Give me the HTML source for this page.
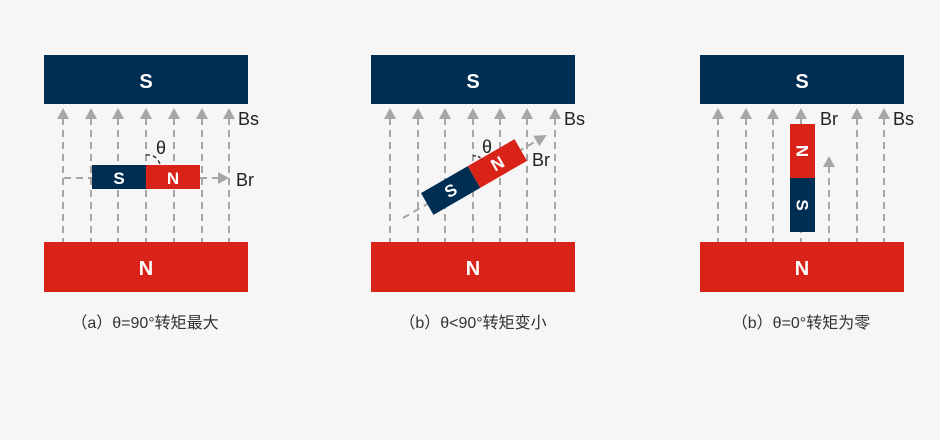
<!DOCTYPE html>
<html><head><meta charset="utf-8"><style>
html,body{margin:0;padding:0;background:#f6f6f6}
svg{display:block}
text{font-family:"Liberation Sans","Noto Sans CJK SC",sans-serif}
</style></head><body>
<svg width="940" height="440" viewBox="0 0 940 440" xmlns="http://www.w3.org/2000/svg">
<rect width="940" height="440" fill="#f6f6f6"/>
<defs>
<g id="fl"><line x1="0" y1="118" x2="0" y2="242" stroke="#a6a6a6" stroke-width="2" stroke-dasharray="7,5"/><polygon points="0,108 -6,119 6,119" fill="#a6a6a6"/></g>
</defs>
<!-- Panel 1 -->
<rect x="44" y="55" width="204" height="49" fill="#002d52"/>
<text x="146" y="88" font-size="20" font-weight="bold" fill="#fff" text-anchor="middle">S</text>
<rect x="44" y="242" width="204" height="50" fill="#d92318"/>
<text x="146" y="275" font-size="20" font-weight="bold" fill="#fff" text-anchor="middle">N</text>
<use href="#fl" x="63"/><use href="#fl" x="91"/><use href="#fl" x="118"/><use href="#fl" x="146"/><use href="#fl" x="174"/><use href="#fl" x="202"/><use href="#fl" x="229"/>
<text x="238" y="125" font-size="18" fill="#222">Bs</text>
<line x1="64" y1="178" x2="92" y2="178" stroke="#a6a6a6" stroke-width="2" stroke-dasharray="7,5"/>
<line x1="200" y1="178" x2="218" y2="178" stroke="#a6a6a6" stroke-width="2" stroke-dasharray="7,5"/>
<polygon points="229,178 218,172 218,184" fill="#a6a6a6"/>
<rect x="92" y="165" width="54" height="24" fill="#002d52"/>
<rect x="146" y="165" width="54" height="24" fill="#d92318"/>
<text x="119" y="184" font-size="17" font-weight="bold" fill="#fff" text-anchor="middle">S</text>
<text x="173" y="184" font-size="17" font-weight="bold" fill="#fff" text-anchor="middle">N</text>
<text x="236" y="186" font-size="18" fill="#222">Br</text>
<text x="161" y="154" font-size="18" fill="#222" text-anchor="middle">θ</text>
<path d="M146,155 Q156,154 160,164" fill="none" stroke="#222" stroke-width="1.3" stroke-dasharray="4,3"/>
<text x="145" y="328" font-size="16" fill="#333" text-anchor="middle">（a）θ=90°转矩最大</text>
<!-- Panel 2 -->
<rect x="371" y="55" width="204" height="49" fill="#002d52"/>
<text x="473" y="88" font-size="20" font-weight="bold" fill="#fff" text-anchor="middle">S</text>
<rect x="371" y="242" width="204" height="50" fill="#d92318"/>
<text x="473" y="275" font-size="20" font-weight="bold" fill="#fff" text-anchor="middle">N</text>
<use href="#fl" x="390"/><use href="#fl" x="418"/><use href="#fl" x="445"/><use href="#fl" x="473"/><use href="#fl" x="500"/><use href="#fl" x="527"/><use href="#fl" x="555"/>
<text x="564" y="125" font-size="18" fill="#222">Bs</text>
<g transform="translate(474,177) rotate(-30)">
<line x1="-82" y1="0" x2="74" y2="0" stroke="#a6a6a6" stroke-width="2" stroke-dasharray="7,5"/>
<polygon points="84,0 72,-6 72,6" fill="#a6a6a6"/>
<rect x="-54" y="-12.5" width="54" height="25" fill="#002d52"/>
<rect x="0" y="-12.5" width="54" height="25" fill="#d92318"/>
<text x="-27" y="6" font-size="17" font-weight="bold" fill="#fff" text-anchor="middle">S</text>
<text x="27" y="6" font-size="17" font-weight="bold" fill="#fff" text-anchor="middle">N</text>
</g>
<text x="532" y="166" font-size="18" fill="#222">Br</text>
<text x="487" y="153" font-size="18" fill="#222" text-anchor="middle">θ</text>
<path d="M473,156 Q479,155 482,160" fill="none" stroke="#222" stroke-width="1.3" stroke-dasharray="3,2"/>
<text x="473" y="328" font-size="16" fill="#333" text-anchor="middle">（b）θ&lt;90°转矩变小</text>
<!-- Panel 3 -->
<rect x="700" y="55" width="204" height="49" fill="#002d52"/>
<text x="802" y="88" font-size="20" font-weight="bold" fill="#fff" text-anchor="middle">S</text>
<rect x="700" y="242" width="204" height="50" fill="#d92318"/>
<text x="802" y="275" font-size="20" font-weight="bold" fill="#fff" text-anchor="middle">N</text>
<use href="#fl" x="718"/><use href="#fl" x="746"/><use href="#fl" x="773"/><use href="#fl" x="801"/><use href="#fl" x="857"/><use href="#fl" x="884"/>
<line x1="829" y1="166" x2="829" y2="242" stroke="#a6a6a6" stroke-width="2" stroke-dasharray="7,5"/>
<polygon points="829,156 823,167 835,167" fill="#a6a6a6"/>
<rect x="790" y="124" width="25" height="54" fill="#d92318"/>
<rect x="790" y="178" width="25" height="54" fill="#002d52"/>
<text transform="translate(796.5,151) rotate(90)" font-size="17" font-weight="bold" fill="#fff" text-anchor="middle">N</text>
<text transform="translate(796.5,205) rotate(90)" font-size="17" font-weight="bold" fill="#fff" text-anchor="middle">S</text>
<text x="820" y="125" font-size="18" fill="#222">Br</text>
<text x="893" y="125" font-size="18" fill="#222">Bs</text>
<text x="801" y="328" font-size="16" fill="#333" text-anchor="middle">（b）θ=0°转矩为零</text>
</svg>
</body></html>
